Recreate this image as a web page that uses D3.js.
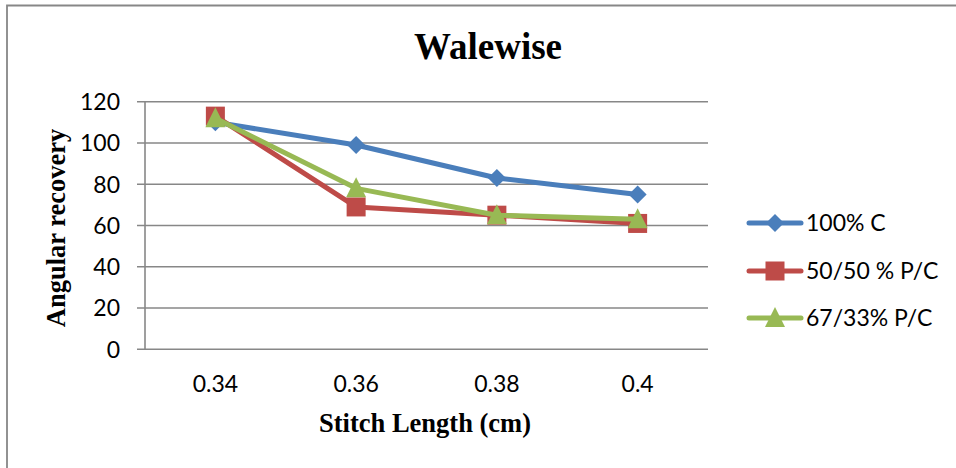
<!DOCTYPE html>
<html><head><meta charset="utf-8">
<script src="https://cdn.jsdelivr.net/npm/d3@7/dist/d3.min.js"></script>
<style>html,body{margin:0;padding:0;background:#fff;}</style>
</head><body>
<script>
const categories = ["0.34", "0.36", "0.38", "0.4"];
const cotton100 = [110, 99, 83, 75];
const pc5050 = [113, 69, 65, 61];
const pc6733 = [112, 78, 65, 63];
const seriesNames = ["100% C", "50/50 % P/C", "67/33% P/C"];
const yTicks = [0, 20, 40, 60, 80, 100, 120];
const chartTitle = "Walewise";
const xTitle = "Stitch Length (cm)";
const yTitle = "Angular recovery";

const W = 956, H = 468;
const svg = d3.select("body").append("svg").attr("width", W).attr("height", H);
svg.append("rect").attr("width", W).attr("height", H).attr("fill", "#fff");

// outer frame (top and left visible)
svg.append("path").attr("d", `M7,${H} L7,5.5 L${W},5.5`).attr("fill", "none")
  .attr("stroke", "#878787").attr("stroke-width", 1.8);

const plot = {l: 145, r: 708, t: 101.7, b: 349.3};
const x = d3.scaleBand().domain(categories).range([plot.l, plot.r]).padding(0);
const y = d3.scaleLinear().domain([0, 120]).range([plot.b, plot.t]);

const grid = "#878787";
svg.append("g").selectAll("line").data(yTicks).join("line")
  .attr("x1", plot.l - 8).attr("x2", plot.r)
  .attr("y1", d => y(d)).attr("y2", d => y(d))
  .attr("stroke", grid).attr("stroke-width", 1.6);
svg.append("line").attr("x1", plot.l).attr("x2", plot.l).attr("y1", plot.t).attr("y2", plot.b)
  .attr("stroke", grid).attr("stroke-width", 1.6);

const tickFont = "Lato, 'Open Sans', sans-serif";
svg.append("g").selectAll("text").data(yTicks).join("text")
  .attr("x", 120).attr("y", d => y(d)).attr("dy", "0.36em")
  .attr("text-anchor", "end").attr("font-family", tickFont).attr("font-size", 23)
  .attr("fill", "#000").text(d => d);

svg.append("g").selectAll("text").data(categories).join("text")
  .attr("x", d => x(d) + x.bandwidth() / 2).attr("y", 392)
  .attr("text-anchor", "middle").attr("font-family", tickFont).attr("font-size", 23)
  .attr("fill", "#000").text(d => d);

svg.append("text").attr("x", 488).attr("y", 59).attr("text-anchor", "middle")
  .attr("font-family", "'Liberation Serif', 'Times New Roman', serif").attr("font-weight", "bold")
  .attr("font-size", 37).text(chartTitle);
svg.append("text").attr("x", 425).attr("y", 432).attr("text-anchor", "middle")
  .attr("font-family", "'Liberation Serif', 'Times New Roman', serif").attr("font-weight", "bold")
  .attr("font-size", 26.5).text(xTitle);
svg.append("text").attr("transform", "translate(65,228) rotate(-90)").attr("text-anchor", "middle")
  .attr("font-family", "'Liberation Serif', 'Times New Roman', serif").attr("font-weight", "bold")
  .attr("font-size", 26.5).text(yTitle);

const series = [
  {name: seriesNames[0], values: cotton100, color: "#4A7EBB", shape: "diamond"},
  {name: seriesNames[1], values: pc5050, color: "#BE4B48", shape: "square"},
  {name: seriesNames[2], values: pc6733, color: "#98B954", shape: "triangle"}
];

function marker(g, shape, cx, cy, color) {
  if (shape === "diamond") {
    const s = 9;
    g.append("path").attr("d", `M${cx},${cy - s} L${cx + s},${cy} L${cx},${cy + s} L${cx - s},${cy} Z`).attr("fill", color);
  } else if (shape === "square") {
    const s = 9.5;
    g.append("rect").attr("x", cx - s).attr("y", cy - s).attr("width", 2 * s).attr("height", 2 * s).attr("fill", color);
  } else {
    const s = 10;
    g.append("path").attr("d", `M${cx},${cy - s - 1} L${cx + s},${cy + s - 1} L${cx - s},${cy + s - 1} Z`).attr("fill", color);
  }
}

const line = d3.line().x((d, i) => x(categories[i]) + x.bandwidth() / 2).y(d => y(d));
series.forEach(s => {
  const g = svg.append("g");
  g.append("path").datum(s.values).attr("d", line).attr("fill", "none")
    .attr("stroke", s.color).attr("stroke-width", 5).attr("stroke-linejoin", "round").attr("stroke-linecap", "round");
  s.values.forEach((v, i) => marker(g, s.shape, x(categories[i]) + x.bandwidth() / 2, y(v), s.color));
});

const legY = [223, 271, 318];
series.forEach((s, i) => {
  const g = svg.append("g");
  g.append("line").attr("x1", 749).attr("x2", 801).attr("y1", legY[i]).attr("y2", legY[i])
    .attr("stroke", s.color).attr("stroke-width", 5).attr("stroke-linecap", "round");
  marker(g, s.shape, 775, legY[i], s.color);
  g.append("text").attr("x", 806).attr("y", legY[i]).attr("dy", "0.36em")
    .attr("font-family", tickFont).attr("font-size", 23).attr("fill", "#000").text(s.name);
});
</script>
</body></html>
